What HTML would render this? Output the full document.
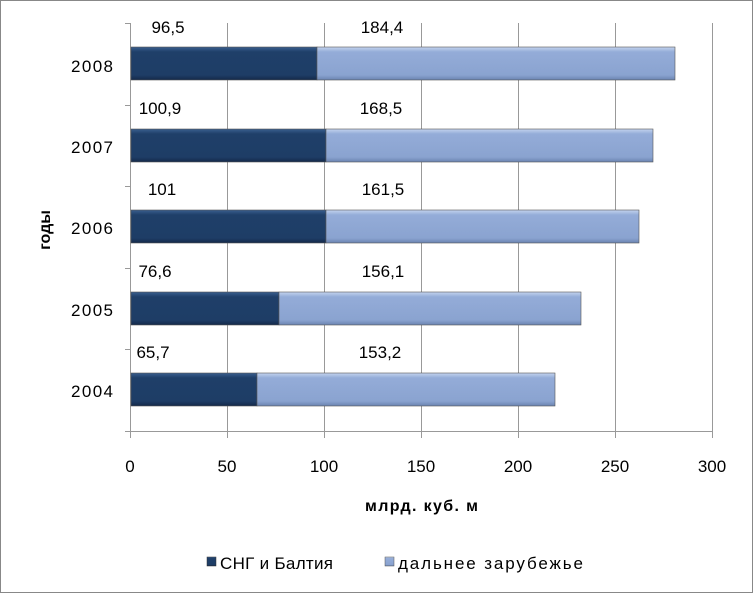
<!DOCTYPE html>
<html><head><meta charset="utf-8"><style>
html,body{margin:0;padding:0;background:#fff}
svg{display:block;font-family:"Liberation Sans","DejaVu Sans",sans-serif}
</style></head><body>
<svg width="753" height="593" viewBox="0 0 753 593" xmlns="http://www.w3.org/2000/svg">
<defs>
<linearGradient id="d" x1="0" y1="0" x2="0" y2="1">
<stop offset="0" stop-color="#3a5f8f"/><stop offset="0.15" stop-color="#1f3f69"/><stop offset="0.85" stop-color="#1e3d66"/><stop offset="1" stop-color="#14294a"/></linearGradient>
<linearGradient id="l" x1="0" y1="0" x2="0" y2="1">
<stop offset="0" stop-color="#c4d4ef"/><stop offset="0.15" stop-color="#94acd8"/><stop offset="0.85" stop-color="#8aa3d0"/><stop offset="1" stop-color="#6a83b0"/></linearGradient>
</defs>
<rect x="0.5" y="0.5" width="752" height="592" fill="#fff" stroke="#888"/>
<g stroke="#999" stroke-width="1">
<line x1="227.5" y1="23" x2="227.5" y2="438"/>
<line x1="324.5" y1="23" x2="324.5" y2="438"/>
<line x1="421.5" y1="23" x2="421.5" y2="438"/>
<line x1="518.5" y1="23" x2="518.5" y2="438"/>
<line x1="615.5" y1="23" x2="615.5" y2="438"/>
<line x1="712.5" y1="23" x2="712.5" y2="438"/>
<line x1="130.5" y1="23" x2="130.5" y2="438"/>
<line x1="125" y1="431.5" x2="712" y2="431.5"/>
<line x1="125" y1="23.5" x2="130" y2="23.5"/>
<line x1="125" y1="105.5" x2="130" y2="105.5"/>
<line x1="125" y1="186.5" x2="130" y2="186.5"/>
<line x1="125" y1="268.5" x2="130" y2="268.5"/>
<line x1="125" y1="349.5" x2="130" y2="349.5"/>
</g>
<g stroke="#555" stroke-width="0.6">
<rect x="131" y="47" width="186" height="33" fill="url(#d)"/><rect x="317" y="47" width="358" height="33" fill="url(#l)"/>
<rect x="131" y="129" width="195" height="33" fill="url(#d)"/><rect x="326" y="129" width="327" height="33" fill="url(#l)"/>
<rect x="131" y="210" width="195" height="33" fill="url(#d)"/><rect x="326" y="210" width="313" height="33" fill="url(#l)"/>
<rect x="131" y="292" width="148" height="33" fill="url(#d)"/><rect x="279" y="292" width="302" height="33" fill="url(#l)"/>
<rect x="131" y="373" width="126" height="33" fill="url(#d)"/><rect x="257" y="373" width="298" height="33" fill="url(#l)"/>
</g>
<g font-size="17" fill="#000" text-anchor="middle">
<text x="168" y="33">96,5</text><text x="382" y="33">184,4</text>
<text x="160" y="114">100,9</text><text x="381" y="114">168,5</text>
<text x="162" y="195">101</text><text x="383" y="195">161,5</text>
<text x="155" y="277">76,6</text><text x="383" y="277">156,1</text>
<text x="153" y="358">65,7</text><text x="380" y="358">153,2</text>
</g>
<g font-size="17" fill="#000" text-anchor="end">
<text x="113" y="72" textLength="42">2008</text><text x="113" y="153" textLength="42">2007</text><text x="113" y="234" textLength="42">2006</text><text x="113" y="316" textLength="42">2005</text><text x="113" y="397" textLength="42">2004</text>
</g>
<g font-size="17" fill="#000" text-anchor="middle">
<text x="130" y="472">0</text><text x="227" y="472">50</text><text x="324" y="472">100</text><text x="421" y="472">150</text><text x="518" y="472">200</text><text x="615" y="472">250</text><text x="712" y="472">300</text>
</g>
<text x="365" y="511" font-size="16" font-weight="bold" textLength="113">млрд. куб. м</text>
<text transform="translate(50,230) rotate(-90)" font-size="16" font-weight="bold" text-anchor="middle">годы</text>
<rect x="207" y="557" width="9" height="9" fill="url(#d)" stroke="#333" stroke-width="0.5"/>
<text x="220" y="569" font-size="17" textLength="113">СНГ и Балтия</text>
<rect x="385" y="557" width="9" height="9" fill="url(#l)" stroke="#555" stroke-width="0.5"/>
<text x="398" y="569" font-size="17" textLength="185">дальнее зарубежье</text>
</svg>
</body></html>
